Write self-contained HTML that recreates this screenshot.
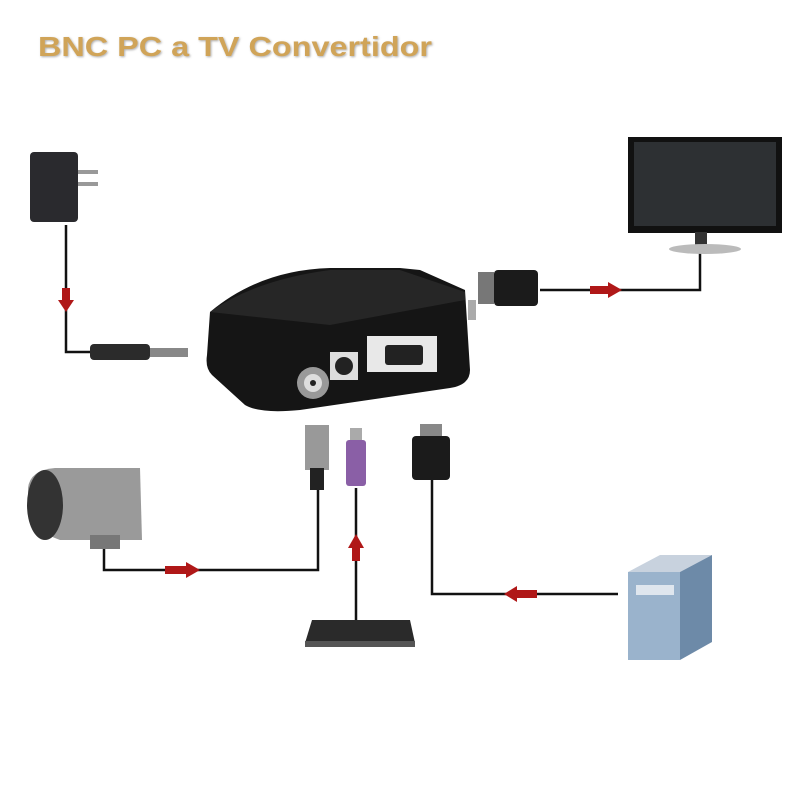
<!DOCTYPE html>
<html><head><meta charset="utf-8"><style>
html,body{margin:0;padding:0;background:#fff;width:800px;height:800px;overflow:hidden}
</style></head><body>
<svg width="800" height="800" viewBox="0 0 800 800" xmlns="http://www.w3.org/2000/svg">
<defs><filter id="sh"><feDropShadow dx="1" dy="1" stdDeviation="1" flood-color="#777" flood-opacity="0.6"/></filter></defs>
<text x="38" y="56" font-family="Liberation Sans, sans-serif" font-weight="bold" font-size="28" fill="#d0a458" filter="url(#sh)" textLength="394" lengthAdjust="spacingAndGlyphs">BNC PC a TV Convertidor</text>

<g stroke="#111" stroke-width="2.5" fill="none">
<polyline points="66,225 66,352 92,352"/>
<polyline points="540,290 700,290 700,252"/>
<polyline points="104,548 104,570 318,570 318,488"/>
<polyline points="356,620 356,488"/>
<polyline points="432,480 432,594 618,594"/>
</g>
<g fill="#b01818">
<rect x="62" y="288" width="8" height="16"/><polygon points="58,300 74,300 66,312"/>
<rect x="590" y="286" width="20" height="8"/><polygon points="608,282 608,298 622,290"/>
<rect x="165" y="566" width="22" height="8"/><polygon points="186,562 186,578 200,570"/>
<rect x="352" y="545" width="8" height="16"/><polygon points="348,548 364,548 356,534"/>
<rect x="515" y="590" width="22" height="8"/><polygon points="517,586 517,602 504,594"/>
</g>

<rect x="30" y="152" width="48" height="70" rx="4" fill="#2a2a2e"/>
<rect x="78" y="170" width="20" height="4" fill="#999"/><rect x="78" y="182" width="20" height="4" fill="#999"/>
<rect x="90" y="344" width="60" height="16" rx="4" fill="#2b2b2b"/>
<rect x="150" y="348" width="38" height="9" fill="#888"/>

<path d="M210,312 Q260,270 330,268 L400,268 L420,270 L465,290 L470,370 Q470,385 450,388 L300,410 Q260,414 245,405 L212,375 Q205,368 207,355 Z" fill="#151515"/>
<path d="M210,312 Q255,280 330,270 L400,270 L465,292 L465,300 L330,325 Z" fill="#262626"/>
<rect x="367" y="336" width="70" height="36" fill="#e8e8e8"/>
<rect x="385" y="345" width="38" height="20" rx="3" fill="#222"/>
<rect x="330" y="352" width="28" height="28" fill="#ddd"/><circle cx="344" cy="366" r="9" fill="#222"/>
<circle cx="313" cy="383" r="16" fill="#999"/><circle cx="313" cy="383" r="9" fill="#ddd"/><circle cx="313" cy="383" r="3" fill="#222"/>
<rect x="468" y="300" width="8" height="20" fill="#aaa"/>

<rect x="628" y="137" width="154" height="96" fill="#111"/>
<rect x="634" y="142" width="142" height="84" fill="#2d3033"/>
<rect x="695" y="232" width="12" height="14" fill="#333"/>
<ellipse cx="705" cy="249" rx="36" ry="5" fill="#bbb"/>

<rect x="478" y="272" width="16" height="32" fill="#777"/>
<rect x="494" y="270" width="44" height="36" rx="4" fill="#1b1b1b"/>

<path d="M28,488 Q30,470 55,468 L140,468 L142,540 L60,540 Q30,530 28,500 Z" fill="#9a9a9a"/>
<ellipse cx="45" cy="505" rx="18" ry="35" fill="#333"/>
<rect x="90" y="535" width="30" height="14" fill="#777"/>

<rect x="305" y="425" width="24" height="45" fill="#999"/><rect x="310" y="468" width="14" height="22" fill="#222"/>
<rect x="350" y="428" width="12" height="12" fill="#aaa"/><rect x="346" y="440" width="20" height="46" rx="3" fill="#8a5fa6"/>
<rect x="420" y="424" width="22" height="14" fill="#888"/><rect x="412" y="436" width="38" height="44" rx="4" fill="#1b1b1b"/>

<path d="M312,620 L410,620 L415,643 L305,643 Z" fill="#2a2a2a"/>
<rect x="305" y="641" width="110" height="6" fill="#555"/>

<polygon points="628,572 660,555 712,555 680,572" fill="#c8d2de"/>
<rect x="628" y="572" width="52" height="88" fill="#9ab3cc"/>
<polygon points="680,572 712,555 712,642 680,660" fill="#6d8aa8"/>
<rect x="636" y="585" width="38" height="10" fill="#dfe6ee"/>
</svg>
</body></html>
